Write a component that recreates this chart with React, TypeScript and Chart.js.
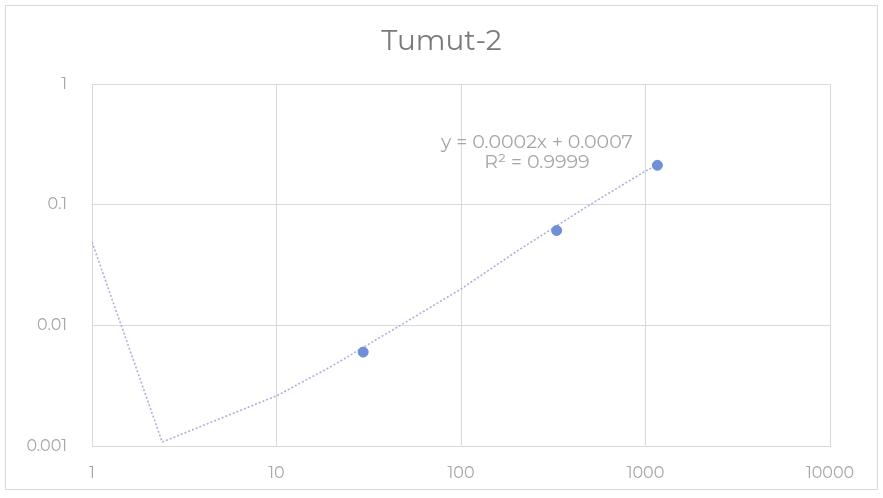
import React, { useEffect, useRef } from "react";
import { Chart, registerables } from "chart.js";

Chart.register(...registerables);

const TITLE = "Tumut-2";
const pointX = [29.5, 330, 1160];
const pointY = [0.006, 0.061, 0.212];
const trendX = [1, 2.4, 5, 10, 20, 50, 100, 200, 500, 1000, 1160];
const trendY = [0.049, 0.00108, 0.0017, 0.0026, 0.0046, 0.0106, 0.02, 0.041, 0.1, 0.19, 0.212];
const xTicks = [1, 10, 100, 1000, 10000];
const yTicks = [0.001, 0.01, 0.1, 1];
const equationLines = ["y = 0.0002x + 0.0007", "R² = 0.9999"];
const equationAnchorX = 258;
const equationAnchorY = [0.33, 0.225];

const FONT = "Montserrat, 'Open Sans', Lato, sans-serif";

export default function App() {
  const ref = useRef<HTMLCanvasElement | null>(null);
  useEffect(() => {
    if (!ref.current) return;
    const decor = {
      id: "decor",
      beforeDraw(chart: any) {
        const { ctx, width, height } = chart;
        ctx.save();
        ctx.fillStyle = "#ffffff";
        ctx.fillRect(0, 0, width, height);
        ctx.strokeStyle = "#d9d9d9";
        ctx.lineWidth = 1;
        ctx.strokeRect(5.5, 5.5, width - 11, height - 14);
        ctx.fillStyle = "#7a7a7a";
        ctx.font = `28px ${FONT}`;
        ctx.textAlign = "center";
        ctx.textBaseline = "alphabetic";
        ctx.fillText(TITLE, width / 2, 50);
        ctx.restore();
      },
      afterDatasetsDraw(chart: any) {
        const { ctx, scales } = chart;
        ctx.save();
        ctx.fillStyle = "#a6a6a6";
        ctx.font = `19px ${FONT}`;
        ctx.textAlign = "center";
        ctx.textBaseline = "middle";
        const px = scales.x.getPixelForValue(equationAnchorX);
        equationLines.forEach((t, i) => {
          ctx.fillText(t, px, scales.y.getPixelForValue(equationAnchorY[i]));
        });
        ctx.restore();
      },
    };
    const chart = new Chart(ref.current, {
      type: "scatter",
      data: {
        datasets: [
          {
            data: pointX.map((x, i) => ({ x, y: pointY[i] })),
            backgroundColor: "#6f8fd8",
            borderColor: "#6f8fd8",
            pointRadius: 5,
            showLine: false,
            order: 0,
          },
          {
            data: trendX.map((x, i) => ({ x, y: trendY[i] })),
            borderColor: "#a9b2dc",
            borderWidth: 1.6,
            borderDash: [2, 2],
            pointRadius: 0,
            showLine: true,
            tension: 0,
            order: 1,
          },
        ],
      },
      options: {
        animation: false,
        responsive: true,
        maintainAspectRatio: false,
        layout: { padding: { left: 0, right: 53, top: 84, bottom: 0 } },
        plugins: { legend: { display: false }, tooltip: { enabled: false }, title: { display: false } },
        scales: {
          x: {
            type: "logarithmic",
            min: 1,
            max: 10000,
            afterBuildTicks: (s: any) => {
              s.ticks = xTicks.map((v) => ({ value: v }));
            },
            afterFit: (s: any) => {
              s.height = 52;
            },
            ticks: {
              color: "#a6a6a6",
              font: { family: FONT, size: 16 },
              maxRotation: 0,
              padding: 18,
              callback: (v: any) => String(v),
            },
            grid: { color: "#d9d9d9", lineWidth: 1, drawTicks: false },
            border: { color: "#d9d9d9" },
          },
          y: {
            type: "logarithmic",
            min: 0.001,
            max: 1,
            afterBuildTicks: (s: any) => {
              s.ticks = yTicks.map((v) => ({ value: v }));
            },
            afterFit: (s: any) => {
              s.width = 92;
            },
            ticks: {
              color: "#a6a6a6",
              font: { family: FONT, size: 16 },
              padding: 25,
              callback: (v: any) => String(v),
            },
            grid: { color: "#d9d9d9", lineWidth: 1, drawTicks: false },
            border: { color: "#d9d9d9" },
          },
        },
      },
      plugins: [decor],
    } as any);
    return () => chart.destroy();
  }, []);
  return (
    <div style={{ position: "fixed", left: 0, top: 0, width: 883, height: 498, background: "#fff" }}>
      <canvas ref={ref} />
    </div>
  );
}
